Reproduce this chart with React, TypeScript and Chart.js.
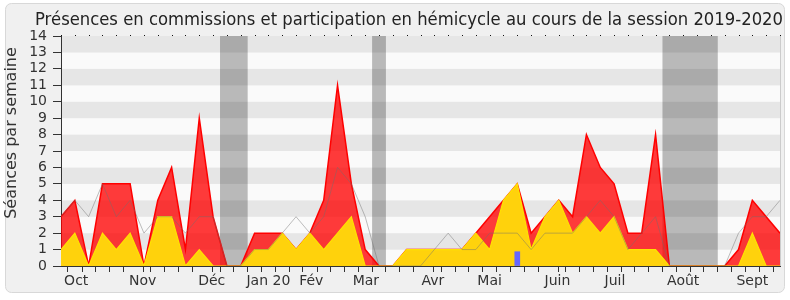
import React, { useEffect, useRef } from 'react';
import { Chart, registerables } from 'chart.js';

Chart.register(...registerables);

// ---- Data (one value per week, index 0 = first week of October 2019) ----
const presences = [3, 4, 0, 5, 5, 5, 0, 4, 6, 1, 9, 3, 0, 0, 2, 2, 2, 1, 2, 4, 11, 5, 1, 0, 0, 1, 1, 1, 1, 1, 2, 3, 4, 5, 2, 3, 4, 3, 8, 6, 5, 2, 2, 8, 0, 0, 0, 0, 0, 1, 4, 3, 2];
const hemicycle = [1, 2, 0, 2, 1, 2, 0, 3, 3, 0, 1, 0, 0, 0, 1, 1, 2, 1, 2, 1, 2, 3, 0, 0, 0, 1, 1, 1, 1, 1, 2, 1, 4, 5, 1, 3, 4, 2, 3, 2, 3, 1, 1, 1, 0, 0, 0, 0, 0, 0, 2, 0, 0];
const mediane = [3, 4, 3, 5, 3, 4, 2, 3, 3, 2, 3, 3, 0, 0, 1, 1, 2, 3, 2, 3, 6, 5, 3, 0, 0, 0, 0, 1, 2, 1, 1, 2, 2, 2, 1, 2, 2, 2, 3, 4, 3, 1, 2, 3, 0, 0, 0, 0, 0, 2, 3, 3, 4];
const questionWeeks = [33];
const questionValues = [0.87];
const monthLabels = ['Oct', 'Nov', 'Déc', 'Jan 20', 'Fév', 'Mar', 'Avr', 'Mai', 'Juin', 'Juil', 'Août', 'Sept'];
const monthPositions = [1.1, 5.9, 10.9, 15.0, 18.1, 22.05, 26.9, 31.0, 35.9, 40.06, 45.0, 50.0];
const vacancesStart = [11.5, 22.5, 43.5];
const vacancesEnd = [13.5, 23.5, 47.5];
const TITLE = 'Présences en commissions et participation en hémicycle au cours de la session 2019-2020';
const Y_TITLE = 'Séances par semaine';
const LAST_WEEK = presences.length - 1;

function hasFont(name: string): boolean {
  const c = document.createElement('canvas').getContext('2d');
  if (!c) return false;
  const s = 'abcdefghijklmnopqrstuvwxyzWQ0123';
  c.font = '20px monospace';
  const a = c.measureText(s).width;
  c.font = `20px '${name}', monospace`;
  const b = c.measureText(s).width;
  return a !== b;
}

export default function App() {
  const ref = useRef<HTMLCanvasElement>(null);

  useEffect(() => {
    if (!ref.current) return;
    const family = hasFont('DejaVu Sans') ? "'DejaVu Sans', sans-serif" : 'sans-serif';
    const labelMap = new Map<number, string>();
    monthPositions.forEach((p, i) => labelMap.set(p, monthLabels[i]));

    const deco = {
      id: 'deco',
      beforeDraw(chart: any) {
        const { ctx, chartArea: a, scales } = chart;
        const y = scales.y;
        ctx.save();
        ctx.fillStyle = '#ffffff';
        ctx.fillRect(0, 0, chart.width, chart.height);
        ctx.beginPath();
        ctx.roundRect(5.5, 3.5, 779, 289, 6);
        ctx.fillStyle = '#f0f0f0';
        ctx.fill();
        ctx.strokeStyle = '#d8d8d8';
        ctx.lineWidth = 1;
        ctx.stroke();
        for (let k = 0; k < 14; k++) {
          const t = y.getPixelForValue(k + 1);
          const b = y.getPixelForValue(k);
          ctx.fillStyle = k % 2 === 1 ? '#e6e6e6' : '#fafafa';
          ctx.fillRect(a.left, t, a.right - a.left, b - t);
        }
        ctx.fillStyle = '#222';
        ctx.font = `17px ${family}`;
        ctx.textAlign = 'center';
        ctx.textBaseline = 'alphabetic';
        ctx.fillText(TITLE, 409, 25, 748);
        ctx.translate(12, 133);
        ctx.rotate(-Math.PI / 2);
        ctx.font = `16px ${family}`;
        ctx.textBaseline = 'middle';
        ctx.fillStyle = '#333';
        ctx.fillText(Y_TITLE, 0, 0, 180);
        ctx.restore();
      },
      beforeDatasetsDraw(chart: any) {
        const { ctx, chartArea: a, scales } = chart;
        const x = scales.x;
        ctx.save();
        ctx.fillStyle = 'rgba(0,0,0,0.26)';
        vacancesStart.forEach((s, i) => {
          const x0 = x.getPixelForValue(s);
          const x1 = x.getPixelForValue(vacancesEnd[i]);
          ctx.fillRect(x0, a.top, x1 - x0, a.bottom - a.top);
        });
        ctx.restore();
      },
      afterDatasetsDraw(chart: any) {
        const { ctx, chartArea: a, scales } = chart;
        const x = scales.x;
        ctx.save();
        ctx.strokeStyle = '#cccccc';
        ctx.lineWidth = 1;
        ctx.beginPath();
        ctx.moveTo(Math.round(a.right) + 0.5, a.top);
        ctx.lineTo(Math.round(a.right) + 0.5, a.bottom);
        ctx.stroke();
        ctx.fillStyle = '#111';
        for (let i = 0; i <= LAST_WEEK; i++) {
          const px = Math.round(x.getPixelForValue(i));
          ctx.fillRect(px, a.top - 1, 1, 1);
        }
        ctx.restore();
      },
    };

    const chart = new Chart(ref.current, {
      type: 'line',
      data: {
        datasets: [
          {
            type: 'bar',
            data: questionWeeks.map((w, i) => ({ x: w, y: questionValues[i] })),
            backgroundColor: '#6666ff',
            borderWidth: 0,
            barThickness: 5,
            order: 1,
          } as any,
          {
            data: mediane.map((v, i) => ({ x: i, y: v })),
            borderColor: 'rgba(110,110,110,0.45)',
            borderWidth: 1,
            pointRadius: 0,
            fill: false,
            tension: 0,
            order: 2,
          },
          {
            data: hemicycle.map((v, i) => ({ x: i, y: v })),
            borderColor: '#ffe200',
            backgroundColor: '#ffd20c',
            borderWidth: 1.2,
            pointRadius: 0,
            fill: 'origin',
            tension: 0,
            order: 3,
          },
          {
            data: presences.map((v, i) => ({ x: i, y: v })),
            borderColor: '#ff0000',
            backgroundColor: 'rgba(255,0,0,0.77)',
            borderWidth: 1.5,
            pointRadius: 0,
            fill: 'origin',
            tension: 0,
            order: 4,
          },
        ],
      },
      options: {
        animation: false,
        responsive: false,
        maintainAspectRatio: false,
        layout: { padding: { top: 36, right: 10, left: 0, bottom: 0 } },
        plugins: {
          legend: { display: false },
          tooltip: { enabled: false },
          title: { display: false },
        },
        scales: {
          x: {
            type: 'linear',
            min: 0,
            max: LAST_WEEK,
            offset: false,
            afterBuildTicks: (s: any) => {
              const set = new Set<number>();
              for (let i = 0; i <= LAST_WEEK; i++) set.add(i);
              monthPositions.forEach((p) => set.add(p));
              const vals = Array.from(set).sort((p, q) => p - q);
              s.ticks = vals.map((v) => ({ value: v }));
            },
            afterFit: (s: any) => {
              s.height = 34;
            },
            grid: {
              display: true,
              drawOnChartArea: false,
              drawTicks: true,
              tickLength: 6,
              tickColor: (c: any) =>
                c.tick && !Number.isInteger(c.tick.value) ? 'rgba(0,0,0,0)' : '#333',
            },
            border: { display: true, color: '#333', width: 1 },
            ticks: {
              autoSkip: false,
              maxRotation: 0,
              minRotation: 0,
              padding: 1,
              color: '#333',
              font: { family, size: 14 },
              callback: (v: any) => labelMap.get(Number(v)) ?? '',
            },
          },
          y: {
            min: 0,
            max: 14,
            afterFit: (s: any) => {
              s.width = 61;
            },
            ticks: {
              stepSize: 1,
              autoSkip: false,
              padding: 6,
              color: '#333',
              font: { family, size: 14 },
            },
            grid: { drawOnChartArea: false, tickLength: 8, tickColor: '#333' },
            border: { display: true, color: '#333', width: 1 },
          },
        },
      },
      plugins: [deco],
    } as any);
    return () => chart.destroy();
  }, []);

  return (
    <div style={{ position: 'absolute', left: 0, top: 0, width: 790, height: 300 }}>
      <canvas ref={ref} width={790} height={300} style={{ width: 790, height: 300, display: 'block' }} />
    </div>
  );
}
